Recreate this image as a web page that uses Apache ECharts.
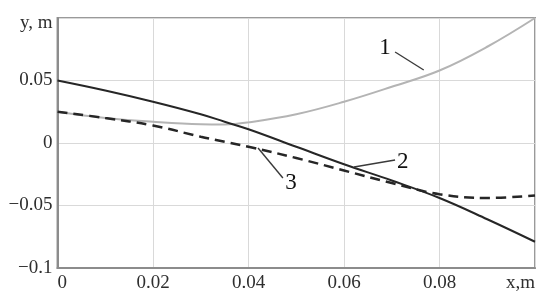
<!DOCTYPE html>
<html>
<head>
<meta charset="utf-8">
<script src="https://cdn.jsdelivr.net/npm/echarts@6/dist/echarts.min.js"></script>
<style>html,body{margin:0;padding:0;background:#fff;}#c{width:550px;height:308px;}</style>
</head>
<body>
<div id="c"></div>
<script>
const xValues = [0, 0.01, 0.02, 0.03, 0.035, 0.04, 0.05, 0.06, 0.07, 0.08, 0.09, 0.1];
const curve1 = [0.025, 0.020, 0.017, 0.015, 0.0148, 0.0165, 0.023, 0.033, 0.045, 0.058, 0.077, 0.1];
const curve2 = [0.050, 0.042, 0.033, 0.023, 0.017, 0.011, -0.003, -0.017, -0.030, -0.044, -0.061, -0.079];
const curve3 = [0.025, 0.020, 0.014, 0.005, 0.001, -0.003, -0.012, -0.022, -0.032, -0.041, -0.044, -0.042];
const xTickLabels = ['0', '0.02', '0.04', '0.06', '0.08', 'x,m'];
const yTickLabels = ['\u22120.1', '\u22120.05', '0', '0.05', 'y, m'];
const curveNames = ['1', '2', '3'];
const labelPoints = [[0.0686, 0.076], [0.0723, -0.0152], [0.0489, -0.032]];
const pointerLines = [
  [[0.0707, 0.0728], [0.0767, 0.0584]],
  [[0.0707, -0.0136], [0.0621, -0.0192]],
  [[0.0472, -0.028], [0.0420, -0.004]]
];

const pairs = arr => xValues.map((x, i) => [x, arr[i]]);
const font = 'Liberation Serif, Times New Roman, serif';

const chart = echarts.init(document.getElementById('c'));
chart.setOption({
  animation: false,
  grid: {left: 57.5, right: 15, top: 18, bottom: 40, show: true, borderColor: '#9a9a9a', borderWidth: 2, backgroundColor: 'transparent'},
  xAxis: {
    type: 'value', min: 0, max: 0.1, interval: 0.02,
    axisLine: {show: true, onZero: false, lineStyle: {color: '#8c8c8c', width: 2}},
    axisTick: {show: false},
    splitLine: {show: true, lineStyle: {color: '#d9d9d9', width: 1}},
    axisLabel: {
      color: '#2e2e2e', fontFamily: font, fontSize: 19, margin: 6,
      alignMinLabel: 'left', alignMaxLabel: 'right',
      formatter: (v) => xTickLabels[Math.round(v / 0.02)]
    }
  },
  yAxis: {
    type: 'value', min: -0.1, max: 0.1, interval: 0.05,
    axisLine: {show: true, onZero: false, lineStyle: {color: '#8c8c8c', width: 2}},
    axisTick: {show: false},
    splitLine: {show: true, lineStyle: {color: '#d9d9d9', width: 1}},
    axisLabel: {
      color: '#2e2e2e', fontFamily: font, fontSize: 19, margin: 5,
      formatter: (v) => {
        const i = Math.round((v + 0.1) / 0.05);
        return i === yTickLabels.length - 1 ? '{s| }\n{t|' + yTickLabels[i] + '}' : yTickLabels[i];
      },
      rich: {
        s: {fontSize: 8, lineHeight: 10},
        t: {color: '#2e2e2e', fontFamily: font, fontSize: 19, lineHeight: 22}
      }
    }
  },
  series: [
    {type: 'line', data: pairs(curve1), smooth: 0.4, showSymbol: false, lineStyle: {color: '#b4b4b4', width: 2}, z: 3},
    {type: 'line', data: pairs(curve2), smooth: 0.4, showSymbol: false, lineStyle: {color: '#262626', width: 2}, z: 4},
    {type: 'line', data: pairs(curve3), smooth: 0.4, showSymbol: false, lineStyle: {color: '#262626', width: 2.5, type: [10, 6]}, z: 5},
    {
      type: 'lines', coordinateSystem: 'cartesian2d', z: 6,
      data: pointerLines.map(c => ({coords: c})),
      lineStyle: {color: '#3a3a3a', width: 1.4, opacity: 1}, symbol: 'none'
    },
    {
      type: 'scatter', symbolSize: 0, z: 7,
      itemStyle: {opacity: 1},
      data: labelPoints.map((p, i) => ({value: p, name: curveNames[i]})),
      label: {show: true, position: 'inside', formatter: '{b}', color: '#111', opacity: 1, fontFamily: font, fontSize: 23}
    }
  ]
});
</script>
</body>
</html>
